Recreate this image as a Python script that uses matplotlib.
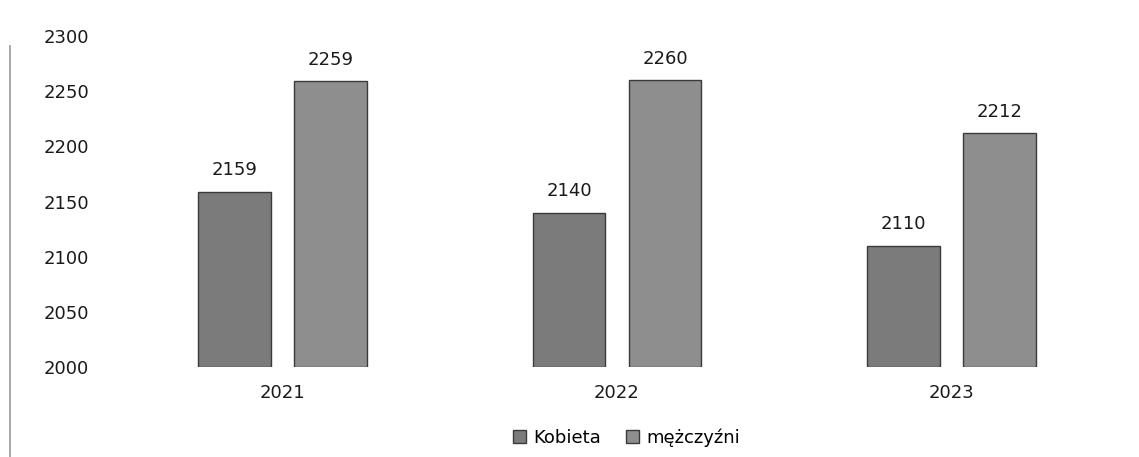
import numpy as np
import matplotlib
matplotlib.use("Agg")
import matplotlib.pyplot as plt
from matplotlib.lines import Line2D

years = ["2021", "2022", "2023"]
kobieta = [2159, 2140, 2110]
mezczyzni = [2259, 2260, 2212]
y_ticks = [2000, 2050, 2100, 2150, 2200, 2250, 2300]

plt.rcParams['font.family'] = ['DejaVu Sans']

fig = plt.figure(figsize=(11.39, 4.57), dpi=100)
ax = fig.add_axes([0.1014, 0.197, 0.8806, 0.724])

x = np.arange(len(years))
w = 0.218
off = 0.1435
b1 = ax.bar(x - off, np.array(kobieta) - 2000, w, bottom=2000, color="#7b7b7b",
            edgecolor="#3a3a3a", linewidth=1.0, label="Kobieta")
b2 = ax.bar(x + off, np.array(mezczyzni) - 2000, w, bottom=2000, color="#8e8e8e",
            edgecolor="#3a3a3a", linewidth=1.0, label="mężczyźni")

for bars, vals in ((b1, kobieta), (b2, mezczyzni)):
    for r, v in zip(bars, vals):
        ax.annotate(str(v), (r.get_x() + r.get_width() / 2, v), xytext=(0, 9),
                    textcoords="offset points", ha="center", va="bottom",
                    fontsize=13, color="#1a1a1a")

ax.set_xlim(-0.5, len(years) - 0.5)
ax.set_ylim(2000, 2300)
ax.set_yticks(y_ticks)
ax.set_yticklabels([str(t) for t in y_ticks], fontsize=13, color="#1a1a1a")
ax.set_xticks(x)
ax.set_xticklabels(years, fontsize=13, color="#1a1a1a")
ax.tick_params(axis="y", length=0, pad=19)
ax.tick_params(axis="x", length=0, pad=12)
for s in ax.spines.values():
    s.set_visible(False)

leg = fig.legend(handles=[b1, b2], labels=["Kobieta", "mężczyźni"],
                 loc="center", bbox_to_anchor=(0.55, 0.042), ncol=2,
                 frameon=False, fontsize=13, handlelength=0.7, handleheight=0.7,
                 handletextpad=0.4, columnspacing=1.4)

# scanned chart border on the left
fig.add_artist(Line2D([0.009, 0.009], [0.0, 0.90], color="#9a9a9a", linewidth=1.2))

fig.savefig("out.png", dpi=100)
